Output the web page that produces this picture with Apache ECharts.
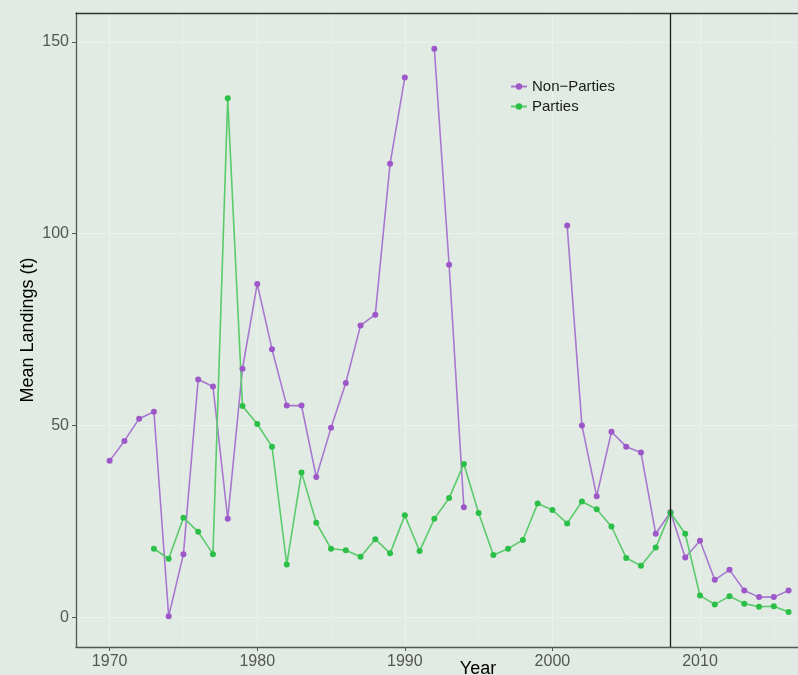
<!DOCTYPE html>
<html>
<head>
<meta charset="utf-8">
<script src="https://cdn.jsdelivr.net/npm/echarts@6/dist/echarts.min.js"></script>
<style>
  html, body { margin: 0; padding: 0; background: #e1ebe3; }
  #chart { width: 798px; height: 675px; }
</style>
</head>
<body>
<div id="chart"></div>
<script>
// years 1970..2016, null = no observation
var years = [];
for (var y = 1970; y <= 2016; y++) years.push(y);

var nonParties = [40.8, 46.0, 51.8, 53.6, 0.3, 16.5, 62.0, 60.2, 25.7, 64.8,
  86.9, 69.9, 55.2, 55.2, 36.6, 49.4, 61.1, 76.1, 78.9, 118.2,
  140.7, null, 148.2, 91.9, 28.7, null, null, null, null, null,
  null, 102.1, 50.0, 31.6, 48.4, 44.5, 43.0, 21.8, 27.4, 15.6,
  20.0, 9.8, 12.4, 7.0, 5.3, 5.3, 7.0];

var parties = [null, null, null, 17.9, 15.3, 26.0, 22.3, 16.5, 135.3, 55.1,
  50.4, 44.5, 13.8, 37.8, 24.7, 17.9, 17.5, 15.8, 20.4, 16.7,
  26.6, 17.3, 25.7, 31.1, 40.0, 27.2, 16.3, 17.9, 20.2, 29.7,
  28.0, 24.5, 30.2, 28.2, 23.7, 15.5, 13.5, 18.2, 27.3, 21.8,
  5.7, 3.4, 5.5, 3.6, 2.8, 2.9, 1.4];

var xTicks = [1970, 1980, 1990, 2000, 2010];
var xMinor = [1975, 1985, 1995, 2005, 2015];
var yTicks = [0, 50, 100, 150];
var yMinor = [25, 75, 125];
var cutYear = 2008;

function pairs(vals) {
  return years.map(function (yr, i) { return [yr, vals[i]]; });
}

var chart = echarts.init(document.getElementById('chart'));
var font = 'Liberation Sans';

chart.setOption({
  backgroundColor: '#e1ebe3',
  animation: false,
  textStyle: { fontFamily: font },
  grid: { left: 76, right: 0, top: 13, bottom: 28, outerBoundsMode: 'none', containLabel: false },
  legend: {
    orient: 'vertical',
    left: 505, top: 74,
    itemWidth: 16, itemHeight: 8, itemGap: 5,
    textStyle: { fontSize: 15, color: '#1a1a1a', fontFamily: font },
    data: ['Non\u2212Parties', 'Parties']
  },
  xAxis: [{
    type: 'value', min: 1967.72, max: 2016.64,
    name: 'Year', nameLocation: 'middle', nameGap: 13, nameMoveOverlap: false,
    nameTextStyle: { fontSize: 18, color: '#000', padding: [0, 0, 0, 82] },
    axisLine: { show: true, onZero: false, lineStyle: { color: '#555', width: 1.3 } },
    axisTick: { show: true, length: 4, customValues: xTicks, lineStyle: { color: '#555' } },
    axisLabel: {
      customValues: xTicks, fontSize: 16, color: '#555', margin: 7,
      formatter: function (v) { return String(v); }
    },
    splitLine: { show: true, lineStyle: { color: '#eaf2ec', width: 1.2 } }
  }, {
    type: 'value', min: 1967.72, max: 2016.64, position: 'top',
    axisLine: { show: true, onZero: false, lineStyle: { color: '#333', width: 1.3 } },
    axisTick: { show: false, customValues: xMinor },
    axisLabel: { show: false, customValues: xMinor },
    splitLine: { show: true, lineStyle: { color: '#e6efe8', width: 0.8 } }
  }],
  yAxis: [{
    type: 'value', min: -7.7, max: 157.5,
    name: 'Mean Landings (t)', nameLocation: 'middle', nameGap: 39, nameMoveOverlap: false,
    nameTextStyle: { fontSize: 18, color: '#000' },
    axisLine: { show: true, onZero: false, lineStyle: { color: '#555', width: 1.3 } },
    axisTick: { show: true, length: 4, customValues: yTicks, lineStyle: { color: '#555' } },
    axisLabel: { customValues: yTicks, fontSize: 16, color: '#555', margin: 7 },
    splitLine: { show: true, lineStyle: { color: '#eaf2ec', width: 1.2 } }
  }, {
    type: 'value', min: -7.7, max: 157.5, position: 'right',
    axisLine: { show: false },
    axisTick: { show: false, customValues: yMinor },
    axisLabel: { show: false, customValues: yMinor },
    splitLine: { show: true, lineStyle: { color: '#e6efe8', width: 0.8 } }
  }],
  series: [{
    name: 'Non\u2212Parties', type: 'line',
    data: pairs(nonParties),
    connectNulls: false,
    symbol: 'circle', symbolSize: 6,
    itemStyle: { color: '#9d57c8' },
    lineStyle: { color: '#a877d0', width: 1.6 },
    markLine: {
      silent: true, symbol: 'none', label: { show: false },
      lineStyle: { color: '#1a1a1a', width: 1.3, type: 'solid' },
      data: [{ xAxis: cutYear }]
    }
  }, {
    name: 'Parties', type: 'line',
    data: pairs(parties),
    connectNulls: false,
    symbol: 'circle', symbolSize: 6,
    itemStyle: { color: '#2cbf48' },
    lineStyle: { color: '#5acb6b', width: 1.6 }
  }]
});
</script>
</body>
</html>
